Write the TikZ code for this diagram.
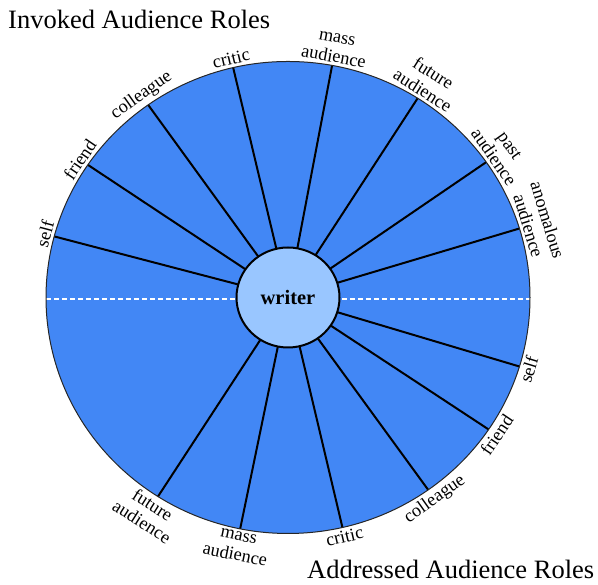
\documentclass[tikz,border=0pt]{standalone}
\usepackage{fontspec}
\setmainfont{Liberation Serif}
\usetikzlibrary{shapes.geometric}
\definecolor{wheelblue}{RGB}{66,135,245}
\definecolor{hubblue}{RGB}{153,198,255}
\begin{document}
\begin{tikzpicture}[x=1pt,y=1pt,
  spoke/.style={line width=2pt, black},
  rim/.style={line width=1pt, black!85},
  lbl/.style={font=\fontsize{18.3}{20}\selectfont, align=center, inner sep=1pt},
  titletext/.style={font=\fontsize{26.5}{30}\selectfont, inner sep=0pt, anchor=base west},
  hub/.style={ellipse, draw, line width=2pt, fill=hubblue, minimum width=103pt, minimum height=100pt, inner sep=0pt, font=\bfseries\fontsize{20.5}{24}\selectfont}]
\useasboundingbox (0,0) rectangle (598,585);
\coordinate (c) at (288,287.5);
\fill[wheelblue] (c) ellipse [x radius=242, y radius=236];
\coordinate (dl) at (46,285.5);
\coordinate (dr) at (530,285.5);
\draw[white, line width=2pt, dash pattern=on 5pt off 3pt] (dl) -- (dr);
\foreach \a [count=\i] in {165,145.8,125.3,103.1,79.5,57.6,35,17,-17,-34,-54.6,-77,-101.4,-122.5} {
  \coordinate (o\i) at ({288+242*cos(\a)},{287.5+236*sin(\a)});
  \draw[spoke] (c) -- (o\i);
}
\draw[rim] (c) ellipse [x radius=242, y radius=236];
\node[hub] (writer) at (c) {writer};
\foreach \a/\t [count=\i] in {165/self,145.8/friend,125.3/colleague,103.1/critic,79.5/{mass\\audience},57.6/{future\\audience},35/{past\\audience},17/{anomalous\\audience}} {
  \node[lbl, anchor=south, rotate=\a-90] (inv\i) at ({288+244*cos(\a)},{287.5+238*sin(\a)}) {\t};
}
\foreach \a/\t [count=\i] in {-17/self,-34/friend,-54.6/colleague,-77/critic,-101.4/{mass\\audience},-122.5/{future\\audience}} {
  \node[lbl, anchor=north, rotate=\a+90] (adr\i) at ({288+244*cos(\a)},{287.5+238*sin(\a)}) {\t};
}
\node[titletext] (t1) at (8,556) {Invoked Audience Roles};
\node[titletext] (t2) at (307,6) {Addressed Audience Roles};
\end{tikzpicture}
\end{document}
